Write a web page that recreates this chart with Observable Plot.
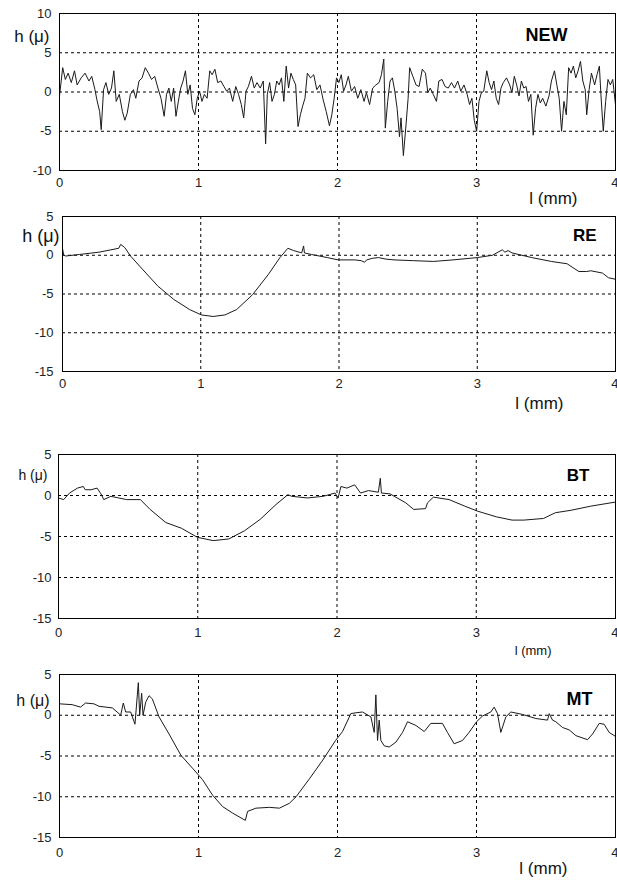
<!DOCTYPE html>
<html><head><meta charset="utf-8">
<script src="https://cdn.jsdelivr.net/npm/d3@7"></script>
<script src="https://cdn.jsdelivr.net/npm/@observablehq/plot@0.6"></script>
<style>
body{margin:0;background:#fff;}
#wrap{position:relative;width:617px;height:883px;background:#fff;}
#wrap svg{position:absolute;left:0;overflow:visible;}
</style></head><body><div id="wrap"></div>
<script>
// ---- data ----
const newX = [0.000,0.023,0.042,0.062,0.085,0.108,0.127,0.156,0.184,0.212,
0.232,0.255,0.269,0.289,0.300,0.317,0.334,0.354,0.374,0.391,
0.408,0.430,0.453,0.470,0.487,0.510,0.532,0.549,0.572,0.594,
0.617,0.640,0.662,0.685,0.708,0.730,0.753,0.770,0.787,0.804,
0.821,0.838,0.855,0.872,0.889,0.906,0.923,0.940,0.957,0.974,
0.991,1.008,1.025,1.042,1.062,1.081,1.098,1.118,1.138,1.161,
1.183,1.203,1.223,1.246,1.268,1.288,1.308,1.325,1.342,1.359,
1.381,1.401,1.421,1.444,1.466,1.483,1.495,1.512,1.529,1.546,
1.563,1.580,1.597,1.614,1.631,1.648,1.665,1.682,1.699,1.716,
1.733,1.749,1.766,1.783,1.806,1.829,1.851,1.874,1.897,1.919,
1.942,1.959,1.976,1.993,2.010,2.027,2.044,2.061,2.078,2.100,
2.123,2.146,2.168,2.191,2.208,2.231,2.253,2.276,2.299,2.316,
2.333,2.344,2.361,2.378,2.395,2.412,2.429,2.446,2.457,2.474,
2.491,2.508,2.519,2.542,2.565,2.587,2.610,2.633,2.650,2.667,
2.689,2.712,2.729,2.752,2.774,2.797,2.820,2.842,2.865,2.887,
2.910,2.933,2.950,2.967,2.984,3.001,3.018,3.035,3.052,3.074,
3.091,3.108,3.125,3.142,3.159,3.176,3.193,3.216,3.239,3.255,
3.272,3.289,3.306,3.323,3.340,3.357,3.374,3.391,3.408,3.425,
3.442,3.459,3.476,3.499,3.522,3.539,3.561,3.578,3.595,3.612,
3.629,3.646,3.663,3.680,3.697,3.714,3.731,3.748,3.765,3.782,
3.793,3.810,3.827,3.850,3.867,3.884,3.895,3.912,3.929,3.946,
3.963,3.980,4.000];
const newH = [-0.5,3.1,1.6,2.4,1.2,2.7,0.9,1.8,2.4,1.4,
2.0,0.3,-1.0,-2.5,-4.8,0.3,1.2,-0.3,0.5,2.7,
-1.2,-0.3,-2.5,-3.6,-2.7,-0.3,0.3,-0.8,1.4,1.8,
3.1,2.4,1.6,2.0,0.5,-0.8,-3.1,-0.3,0.5,-1.2,
0.5,-3.1,-1.2,0.5,1.4,2.7,-0.3,0.9,-2.1,-2.9,
-0.8,0.1,-1.2,-0.3,-0.8,2.7,2.2,2.9,1.2,1.4,
0.7,0.1,0.5,-1.2,0.7,-0.3,-1.6,-3.3,0.1,0.7,
2.0,0.5,1.2,0.5,1.4,-6.6,-0.3,1.2,-1.2,-0.3,
1.4,0.9,1.8,-1.2,3.3,0.5,2.4,1.6,0.9,-4.4,
-2.9,-1.8,-0.8,2.4,1.8,2.2,0.3,0.9,-1.0,-2.5,
-4.3,-2.9,-0.8,1.8,1.2,2.2,0.1,0.9,2.0,0.1,
0.7,-0.8,0.3,-1.2,-0.1,-1.6,0.5,0.9,1.2,2.2,
4.2,-4.6,-1.2,1.4,1.8,0.1,-2.1,-5.7,-3.3,-8.1,
-4.6,-0.8,3.1,2.0,0.9,0.7,2.9,2.4,-0.1,0.5,
-0.3,-1.2,1.4,1.6,0.7,0.5,1.2,0.5,1.4,0.1,
0.9,-0.3,-1.6,-0.8,-3.6,-5.0,-1.2,-0.1,0.1,2.7,
1.2,0.3,1.4,-0.8,-1.6,0.5,1.2,1.8,0.9,-0.1,
2.0,0.9,-0.5,1.4,0.5,0.7,-1.2,-0.3,-5.5,-2.1,
-0.3,-1.4,-0.8,-1.8,-0.5,1.4,2.7,0.9,-0.8,-5.0,
-1.2,-2.9,3.1,2.4,3.3,1.8,2.7,3.9,1.4,0.3,
-2.9,0.3,2.4,0.9,2.2,3.3,-0.3,-5.0,-1.2,1.6,
0.9,1.6,-1.6];

const reX = [0.000,0.009,0.023,0.122,0.265,0.407,0.421,0.450,0.492,0.578,
0.691,0.805,0.919,1.004,1.090,1.175,1.260,1.374,1.488,1.573,
1.630,1.673,1.730,1.744,1.750,1.801,1.915,1.994,2.114,2.160,
2.185,2.200,2.240,2.285,2.340,2.398,2.540,2.683,2.825,3.001,
3.110,3.181,3.200,3.223,3.252,3.394,3.536,3.650,3.735,3.792,
3.821,3.906,3.949,4.000];
const reH = [0.9,0.0,-0.1,0.1,0.4,0.9,1.4,1.0,-0.1,-1.8,
-4.0,-5.7,-7.0,-7.7,-7.9,-7.7,-7.0,-5.1,-2.5,-0.3,
0.9,0.6,0.3,1.2,0.3,0.1,-0.3,-0.6,-0.6,-0.7,
-0.9,-0.6,-0.4,-0.3,-0.5,-0.6,-0.7,-0.8,-0.6,-0.3,
0.0,0.7,0.4,0.6,0.3,-0.3,-0.8,-1.1,-2.1,-2.1,
-2.0,-2.3,-2.9,-3.1];

const btX = [0.000,0.037,0.079,0.136,0.178,0.192,0.234,0.277,0.305,0.325,
0.376,0.432,0.489,0.588,0.658,0.771,0.884,0.997,1.110,1.223,
1.336,1.449,1.562,1.647,1.675,1.788,1.901,1.986,2.008,2.028,
2.071,2.127,2.169,2.226,2.297,2.311,2.319,2.381,2.494,2.551,
2.636,2.650,2.692,2.805,2.918,3.008,3.144,3.257,3.342,3.483,
3.568,3.681,3.822,4.000];
const btH = [-0.3,-0.5,0.3,0.9,1.1,0.7,0.7,0.9,0.2,-0.5,
-0.1,-0.3,-0.5,-0.5,-1.7,-3.3,-4.0,-5.1,-5.5,-5.3,
-4.3,-2.9,-1.1,0.1,-0.1,-0.3,-0.1,0.3,-0.3,1.1,
0.9,1.3,0.3,0.6,0.4,2.1,0.3,0.2,-0.9,-1.7,
-1.6,-0.9,-0.2,-0.5,-1.3,-1.9,-2.6,-3.0,-3.0,-2.8,
-2.1,-1.8,-1.3,-0.8];

const mtX = [0.000,0.091,0.151,0.188,0.248,0.284,0.380,0.428,0.440,0.459,
0.476,0.512,0.543,0.567,0.577,0.591,0.601,0.620,0.644,0.668,
0.716,0.788,0.873,0.957,1.029,1.101,1.173,1.245,1.337,1.353,
1.413,1.510,1.582,1.654,1.702,1.798,1.894,1.986,2.036,2.096,
2.132,2.180,2.240,2.264,2.276,2.288,2.300,2.312,2.336,2.372,
2.420,2.468,2.504,2.564,2.624,2.671,2.755,2.791,2.839,2.899,
2.947,3.000,3.043,3.103,3.127,3.151,3.175,3.211,3.247,3.331,
3.427,3.511,3.523,3.547,3.571,3.619,3.667,3.715,3.799,3.835,
3.883,3.918,3.954,4.000];
const mtH = [1.4,1.3,1.0,1.5,1.4,1.1,0.9,0.2,0.0,1.5,
0.4,0.4,-1.1,4.0,0.0,2.7,0.0,1.6,2.4,2.0,
-0.2,-2.3,-4.9,-6.5,-7.9,-9.8,-11.2,-12.0,-12.9,-11.8,
-11.4,-11.3,-11.4,-10.8,-10.0,-7.8,-5.5,-3.1,-2.0,0.2,
0.3,0.4,-0.2,-2.1,2.5,-3.1,-0.6,-3.1,-3.75,-3.9,
-3.3,-2.1,-0.8,-1.25,-2.0,-1.0,-1.0,-2.1,-3.5,-3.1,
-2.1,-0.8,-0.1,0.4,1.0,0.2,-2.1,-0.2,0.4,0.1,
-0.4,-0.6,0.2,-0.6,-0.8,-1.5,-1.8,-2.5,-3.0,-2.3,
-1.0,-1.1,-2.1,-2.6];

const xTicks = [0, 1, 2, 3];
const xTickLast = [4];
const xGrid = [1, 2, 3];
const yTicksNew = [-10, -5, 0, 5, 10];
const yGridNew = [-5, 0, 5];
const yTicks = [-15, -10, -5, 0, 5];
const yGrid = [-10, -5, 0];
const panelTitles = ["NEW", "RE", "BT", "MT"];
const xLabel = "l (mm)";
const yLabel = "h (\u03bc)";

// ---- drawing ----
const zip = (xs, hs) => xs.map((x, i) => ({x, h: hs[i]}));
const FONT = "Liberation Sans, Arial, sans-serif";

function panel(o) {
  const data = zip(o.xs, o.hs);
  const svg = Plot.plot({
    width: 617, height: o.height,
    marginTop: o.mt, marginBottom: o.mb, marginLeft: o.ml, marginRight: 2,
    style: {fontFamily: FONT, color: "#222", background: "transparent", overflow: "visible"},
    x: {domain: [0, 4]},
    y: {domain: o.ydomain},
    marks: [
      Plot.ruleX(xGrid, {stroke: "#000", strokeDasharray: "3,3", strokeWidth: 1}),
      Plot.ruleY(o.ygrid, {stroke: "#000", strokeDasharray: "3,3", strokeWidth: 1}),
      Plot.line(data, {x: "x", y: "h", stroke: "#1a1a1a", strokeWidth: 1}),
      Plot.frame({stroke: "#000", strokeWidth: 1}),
      Plot.axisX(xTicks, {tickSize: 0, tickPadding: o.xpad, fontSize: 13, label: null, tickFormat: d => String(d)}),
      Plot.axisX(xTickLast, {tickSize: 0, tickPadding: o.xpad, fontSize: 13, label: null, textAnchor: "end", dx: 3, tickFormat: d => String(d)}),
      Plot.axisY(o.yticks, {tickSize: 0, tickPadding: o.ypad, fontSize: 13, label: null, tickFormat: d => String(d)}),
      Plot.text([o.title], {text: d => d, frameAnchor: "top-right", textAnchor: "end", lineAnchor: "middle",
        dx: o.tdx, dy: o.tdy, fontSize: o.tsize, fontWeight: "bold", fill: "#000"}),
      Plot.text([yLabel], {text: d => d, frameAnchor: "top-left", textAnchor: "end", lineAnchor: "middle",
        dx: o.ydx, dy: o.ydy, fontSize: o.ysize, fill: "#111"}),
      Plot.text([xLabel], {text: d => d, frameAnchor: "bottom-right", textAnchor: "end", lineAnchor: "middle",
        dx: o.xdx, dy: o.xdy, fontSize: o.xsize, fill: "#111"})
    ]
  });
  svg.style.top = o.top + "px";
  document.getElementById("wrap").appendChild(svg);
}

panel({xs: newX, hs: newH, title: panelTitles[0], top: 0, height: 210, mt: 13, mb: 40, ml: 59,
  ydomain: [-10, 10], yticks: yTicksNew, ygrid: yGridNew, xpad: 7, ypad: 8,
  tdx: -48, tdy: 22, tsize: 18, ydx: -10, ydy: 23, ysize: 17, xdx: -38, xdy: 28, xsize: 17});
panel({xs: reX, hs: reH, title: panelTitles[1], top: 200, height: 220, mt: 16, mb: 49, ml: 62,
  ydomain: [-15, 5], yticks: yTicks, ygrid: yGrid, xpad: 7, ypad: 9,
  tdx: -19, tdy: 19, tsize: 17, ydx: -3, ydy: 20, ysize: 18, xdx: -52, xdy: 32, xsize: 17});
panel({xs: btX, hs: btH, title: panelTitles[2], top: 430, height: 225, mt: 24, mb: 37, ml: 58,
  ydomain: [-15, 5], yticks: yTicks, ygrid: yGrid, xpad: 9, ypad: 7,
  tdx: -26, tdy: 21, tsize: 17, ydx: -11, ydy: 21, ysize: 14, xdx: -64, xdy: 32, xsize: 13});
panel({xs: mtX, hs: mtH, title: panelTitles[3], top: 655, height: 228, mt: 19, mb: 46, ml: 59,
  ydomain: [-15, 5], yticks: yTicks, ygrid: yGrid, xpad: 10, ypad: 8,
  tdx: -23, tdy: 25, tsize: 18, ydx: -10, ydy: 26, ysize: 16, xdx: -48, xdy: 31, xsize: 17});
</script></body></html>
